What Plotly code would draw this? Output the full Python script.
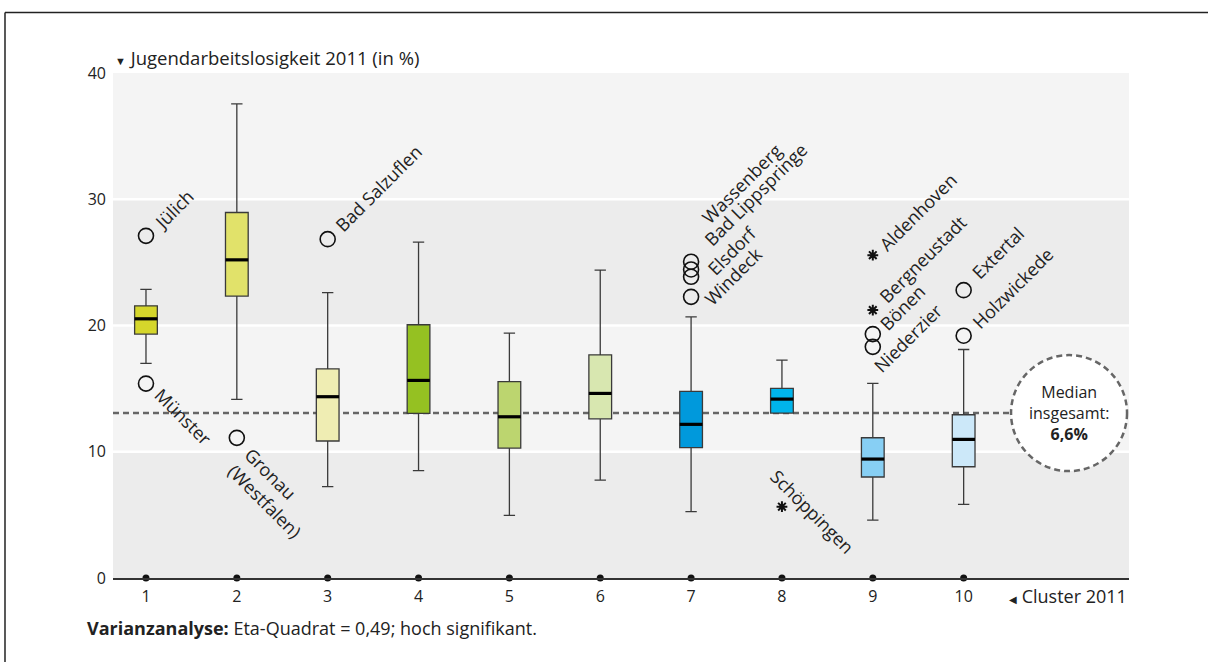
import plotly.graph_objects as go

# ---------------- data ----------------
clusters = [1, 2, 3, 4, 5, 6, 7, 8, 9, 10]
q1 = [19.32, 22.33, 10.85, 13.04, 10.29, 12.61, 10.32, 13.06, 8.00, 8.81]
median = [20.53, 25.20, 14.36, 15.65, 12.77, 14.62, 12.17, 14.17, 9.42, 10.98]
q3 = [21.56, 28.95, 16.57, 20.06, 15.55, 17.68, 14.78, 15.02, 11.11, 12.93]
lower_whisker = [17.00, 14.15, 7.23, 8.50, 4.96, 7.76, 5.25, 13.06, 4.59, 5.83]
upper_whisker = [22.86, 37.55, 22.60, 26.60, 19.40, 24.39, 20.69, 17.26, 15.41, 18.10]
box_colors = ["#d5d62b", "#e1e26a", "#efedb3", "#95c122", "#bcd56f",
              "#d8e7b0", "#0099dc", "#00b4eb", "#87cff4", "#cce8f9"]

# outliers: cluster, value, kind (o = outlier, x = extreme), label
out_cluster = [1, 1, 2, 3, 7, 7, 7, 7, 8, 9, 9, 9, 9, 10, 10]
out_value = [27.10, 15.40, 11.10, 26.84, 22.27, 23.86, 24.44, 25.05, 5.65,
             25.57, 21.22, 19.32, 18.31, 22.80, 19.19]
out_kind = ["o", "o", "o", "o", "o", "o", "o", "o", "x", "x", "x", "o", "o", "o", "o"]
out_label = ["Jülich", "Münster", "Gronau<br>(Westfalen)", "Bad Salzuflen",
             "Windeck", "Elsdorf", "Bad Lippspringe", "Wassenberg", "Schöppingen",
             "Aldenhoven", "Bergneustadt", "Bönen", "Niederzier", "Extertal",
             "Holzwickede"]
# label placement (pixel offset of label centre from the marker, angle)
lab_dx = [28, 38, 36, 51, 42, 40, 65, 50, 31, 45, 50, 30, 35, 34, 49]
lab_dy = [27, -33, -55, 51, 21, 26, 75, 78, -5, 43, 51, 27, 9, 37, 48]
lab_angle = [-45, 45, 45, -45, -45, -45, -45, -45, 45, -45, -45, -45, -45, -45, -45]

overall_median = 13.06
y_ticks = [0, 10, 20, 30, 40]

FONT = "Open Sans"
TXT = "#222222"

fig = go.Figure()

# boxes
for i, c in enumerate(clusters):
    fig.add_trace(go.Box(
        x=[c], q1=[q1[i]], median=[median[i]], q3=[q3[i]],
        lowerfence=[lower_whisker[i]], upperfence=[upper_whisker[i]],
        width=0.25, whiskerwidth=0.5, fillcolor=box_colors[i],
        line=dict(color="#3a3a3a", width=1.3), boxpoints=False,
        hoverinfo="skip", showlegend=False))

# thick median bars
mx, my = [], []
for i, c in enumerate(clusters):
    mx += [c - 0.125, c + 0.125, None]
    my += [median[i], median[i], None]
fig.add_trace(go.Scatter(x=mx, y=my, mode="lines",
                         line=dict(color="#000000", width=3.2),
                         hoverinfo="skip", showlegend=False))

# dots on the baseline
fig.add_trace(go.Scatter(x=clusters, y=[0] * len(clusters), mode="markers",
                         marker=dict(color="#111111", size=7),
                         cliponaxis=False, hoverinfo="skip", showlegend=False))

# outliers
ox = [c for c, k in zip(out_cluster, out_kind) if k == "o"]
oy = [v for v, k in zip(out_value, out_kind) if k == "o"]
ex = [c for c, k in zip(out_cluster, out_kind) if k == "x"]
ey = [v for v, k in zip(out_value, out_kind) if k == "x"]
fig.add_trace(go.Scatter(x=ox, y=oy, mode="markers",
                         marker=dict(symbol="circle-open", size=15, color="#111111",
                                     line=dict(color="#111111", width=1.6)),
                         hoverinfo="skip", showlegend=False))
fig.add_trace(go.Scatter(x=ex, y=ey, mode="markers",
                         marker=dict(symbol="asterisk-open", size=9, color="#111111",
                                     line=dict(color="#111111", width=2)),
                         hoverinfo="skip", showlegend=False))

annotations = []
for c, v, lab, dx, dy, ang in zip(out_cluster, out_value, out_label, lab_dx, lab_dy, lab_angle):
    annotations.append(dict(x=c, y=v, xref="x", yref="y", text=lab, showarrow=False,
                            textangle=ang, xanchor="center", yanchor="middle",
                            xshift=dx, yshift=dy, align="left",
                            font=dict(family=FONT, size=18, color=TXT)))

shapes = []
# background bands
band_cols = ["#ececec", "#f4f4f4", "#ececec", "#f4f4f4"]
for i in range(4):
    shapes.append(dict(type="rect", xref="paper", yref="y", x0=0, x1=1,
                       y0=y_ticks[i], y1=y_ticks[i + 1], fillcolor=band_cols[i],
                       line=dict(width=0), layer="below"))
for t in y_ticks[1:-1]:
    shapes.append(dict(type="line", xref="paper", yref="y", x0=0, x1=1, y0=t, y1=t,
                       line=dict(color="#ffffff", width=2.6), layer="below"))
# overall median line
shapes.append(dict(type="line", xref="paper", yref="y", x0=0, x1=0.93,
                   y0=overall_median, y1=overall_median,
                   line=dict(color="#666666", width=2.5, dash="6px,4px"), layer="below"))
# median bubble
shapes.append(dict(type="circle", xref="x", yref="y", xsizemode="pixel", ysizemode="pixel",
                   xanchor=11.16, yanchor=overall_median, x0=-58, x1=58, y0=-58, y1=58,
                   fillcolor="#ffffff", line=dict(color="#666666", width=2.5, dash="6px,4px"),
                   layer="below"))
# frame
shapes.append(dict(type="line", xref="paper", yref="paper", x0=-0.1063, x1=1.2,
                   y0=1.1198, y1=1.1198, line=dict(color="#222222", width=1.5)))
shapes.append(dict(type="line", xref="paper", yref="paper", x0=-0.1063, x1=-0.1063,
                   y0=1.1198, y1=-0.3, line=dict(color="#222222", width=1.5)))

annotations.append(dict(x=11.16, y=overall_median, xref="x", yref="y",
                        text="Median<br>insgesamt:<br><b>6,6%</b>", showarrow=False,
                        font=dict(family=FONT, size=16, color=TXT), align="center"))
annotations.append(dict(x=0, y=1, xref="paper", yref="paper", xanchor="left", yanchor="bottom",
                        yshift=1, showarrow=False,
                        text="<span style='font-size:11px'>▼</span> Jugendarbeitslosigkeit 2011 (in %)",
                        font=dict(family=FONT, size=18.5, color=TXT)))
annotations.append(dict(x=1, y=0, xref="paper", yref="paper", xanchor="right", yanchor="middle",
                        yshift=-18, showarrow=False,
                        text="<span style='font-size:10px'>◀</span> Cluster 2011",
                        font=dict(family=FONT, size=18, color=TXT)))
annotations.append(dict(x=0, y=0, xref="paper", yref="paper", xanchor="left", yanchor="middle",
                        xshift=-28, yshift=-50, showarrow=False,
                        text="<b>Varianzanalyse:</b> Eta-Quadrat = 0,49; hoch signifikant.",
                        font=dict(family=FONT, size=18, color=TXT)))

fig.update_layout(
    width=1208, height=662,
    margin=dict(l=113, r=79, t=73, b=84),
    paper_bgcolor="#ffffff", plot_bgcolor="#f4f4f4",
    font=dict(family=FONT, color=TXT),
    showlegend=False,
    shapes=shapes, annotations=annotations,
    xaxis=dict(range=[0.637, 11.82], tickvals=clusters, ticktext=[str(c) for c in clusters],
               showgrid=False, zeroline=False, showline=True, linecolor="#333333", linewidth=2,
               ticks="", ticklabelstandoff=3, tickfont=dict(family=FONT, size=16, color=TXT)),
    yaxis=dict(range=[0, 40], tickvals=y_ticks, showgrid=False, zeroline=False,
               showline=False, ticks="", ticklabelstandoff=6,
               tickfont=dict(family=FONT, size=16, color=TXT)),
)

fig.write_html("out.html", config={"displayModeBar": False},
               post_script="document.body.style.margin='0';document.body.style.overflow='hidden';")
